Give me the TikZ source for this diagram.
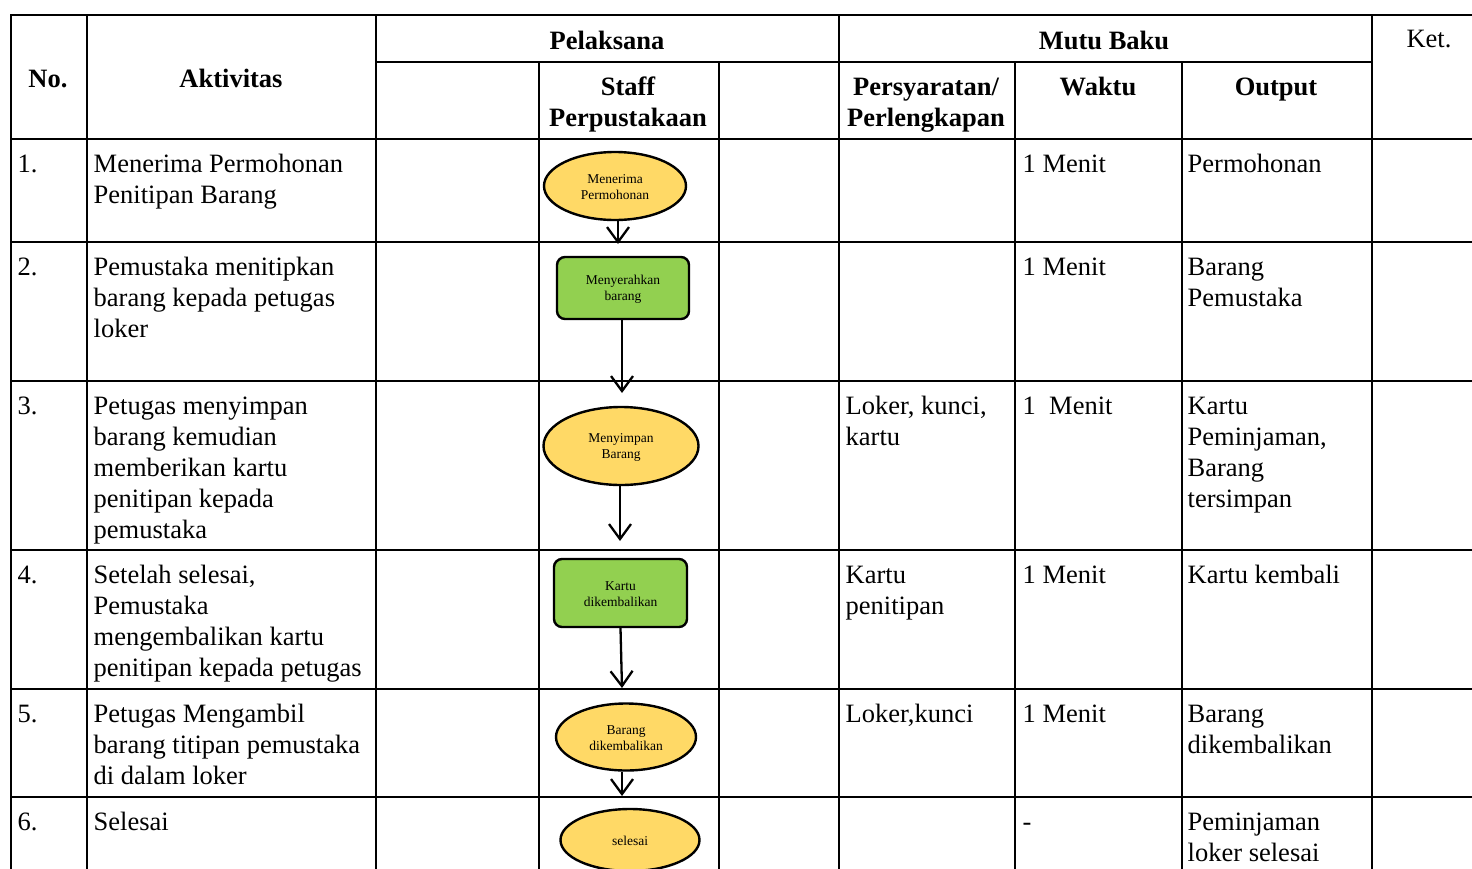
\documentclass[tikz,border=0pt]{standalone}
\usepackage{fontspec}
\setmainfont{Liberation Serif}
\usetikzlibrary{shapes.geometric,arrows.meta}
\definecolor{yel}{HTML}{FFD966}
\definecolor{grn}{HTML}{92D050}
\newcommand\fst{\rule{0pt}{24pt}}
\newcommand\sst{\rule{0pt}{12pt}}
\tikzset{
  gridline/.style={line width=2.2pt, line cap=rect},
  cell/.style={inner sep=0pt, anchor=north west, align=left, font=\fontsize{26.5}{31}\selectfont},
  head/.style={inner sep=0pt, anchor=north, align=center, font=\fontsize{26.5}{31}\selectfont\bfseries},
  term/.style={ellipse, draw, line width=2.4pt, fill=yel, inner sep=0pt, align=center, font=\fontsize{13.5}{16}\selectfont},
  proc/.style={rectangle, rounded corners=8pt, draw, line width=2.4pt, fill=grn, inner sep=0pt, align=center, font=\fontsize{13.5}{16}\selectfont},
  arr/.style={line width=2.3pt, -{Straight Barb[length=15pt,width=22pt,line width=2.3pt]}}
}
\begin{document}
\begin{tikzpicture}[x=1pt,y=-1pt]
\useasboundingbox (0,0) rectangle (1472,868);
\fill[white] (0,0) rectangle (1472,868);
% grid
\draw[gridline] (11,15) -- (1472,15);
\draw[gridline] (376,62) -- (1372,62);
\foreach \y in {139,242,381,550,689,797} \draw[gridline] (11,\y) -- (1472,\y);
\foreach \x in {11,87,376,839,1372} \draw[gridline] (\x,15) -- (\x,870);
\foreach \x in {539,719,1015,1182} \draw[gridline] (\x,62) -- (\x,870);
% headers
\node[head] (hno) at (48,63) {\fst No.};
\node[head] (hakt) at (231,63) {\fst Aktivitas};
\node[head] (hpel) at (607,25) {\fst Pelaksana};
\node[head] (hmutu) at (1104,25) {\fst Mutu Baku};
\node[head, font=\fontsize{26.5}{31}\selectfont] (hket) at (1429,23) {\fst Ket.};
\node[head] (hstaff) at (628,71) {\fst Staff\\Perpustakaan};
\node[head] (hpers) at (926,71) {\fst Persyaratan/\\Perlengkapan};
\node[head] (hwaktu) at (1098,71) {\fst Waktu};
\node[head] (hout) at (1276,71) {\fst Output};
% row 1
\node[cell] (n1) at (17.5,148) {\fst 1.};
\node[cell] (a1) at (93.5,148) {\fst Menerima Permohonan\\Penitipan Barang};
\node[cell] (w1) at (1022.5,148) {\fst 1 Menit};
\node[cell] (o1) at (1187.5,148) {\fst Permohonan};
% row 2
\node[cell] (n2) at (17.5,251) {\fst 2.};
\node[cell] (a2) at (93.5,251) {\fst Pemustaka menitipkan\\barang kepada petugas\\loker};
\node[cell] (w2) at (1022.5,251) {\fst 1 Menit};
\node[cell] (o2) at (1187.5,251) {\fst Barang\\Pemustaka};
% row 3
\node[cell] (n3) at (17.5,390) {\fst 3.};
\node[cell] (a3) at (93.5,390) {\fst Petugas menyimpan\\barang kemudian\\memberikan kartu\\penitipan kepada\\pemustaka};
\node[cell] (p3) at (845.5,390) {\fst Loker, kunci,\\kartu};
\node[cell] (w3) at (1022.5,390) {\fst 1\ \ Menit};
\node[cell] (o3) at (1187.5,390) {\fst Kartu\\Peminjaman,\\Barang\\tersimpan};
% row 4
\node[cell] (n4) at (17.5,559) {\fst 4.};
\node[cell] (a4) at (93.5,559) {\fst Setelah selesai,\\Pemustaka\\mengembalikan kartu\\penitipan kepada petugas};
\node[cell] (p4) at (845.5,559) {\fst Kartu\\penitipan};
\node[cell] (w4) at (1022.5,559) {\fst 1 Menit};
\node[cell] (o4) at (1187.5,559) {\fst Kartu kembali};
% row 5
\node[cell] (n5) at (17.5,698) {\fst 5.};
\node[cell] (a5) at (93.5,698) {\fst Petugas Mengambil\\barang titipan pemustaka\\di dalam loker};
\node[cell] (p5) at (845.5,698) {\fst Loker,kunci};
\node[cell] (w5) at (1022.5,698) {\fst 1 Menit};
\node[cell] (o5) at (1187.5,698) {\fst Barang\\dikembalikan};
% row 6
\node[cell] (n6) at (17.5,806) {\fst 6.};
\node[cell] (a6) at (93.5,806) {\fst Selesai};
\node[cell] (w6) at (1022.5,806) {\fst -};
\node[cell] (o6) at (1187.5,806) {\fst Peminjaman\\loker selesai};
% flow shapes
\node[term, minimum width=142pt, minimum height=68pt] (e1) at (615,186) {\sst Menerima\\Permohonan};
\node[proc, minimum width=132pt, minimum height=62pt] (r2) at (623,288) {\sst Menyerahkan\\barang};
\node[term, minimum width=155pt, minimum height=78pt] (e3) at (621,446) {\sst Menyimpan\\Barang};
\node[proc, minimum width=133pt, minimum height=68pt] (r4) at (620.5,593) {\sst Kartu\\dikembalikan};
\node[term, minimum width=140pt, minimum height=67pt] (e5) at (626,737) {\sst Barang\\dikembalikan};
\node[term, minimum width=139pt, minimum height=62pt] (e6) at (630,840) {\sst selesai};
% arrows
\coordinate (t1) at (618,244);
\coordinate (t2) at (622,393);
\coordinate (t3) at (620,541);
\coordinate (t4) at (622,688);
\coordinate (t5) at (622,796);
\draw[arr] (e1.south -| t1) -- (t1);
\draw[arr] (r2.south -| t2) -- (t2);
\draw[arr] (e3.south -| t3) -- (t3);
\draw[arr] (r4.south) -- (t4);
\draw[arr] (e5.south -| t5) -- (t5);
\end{tikzpicture}
\end{document}
